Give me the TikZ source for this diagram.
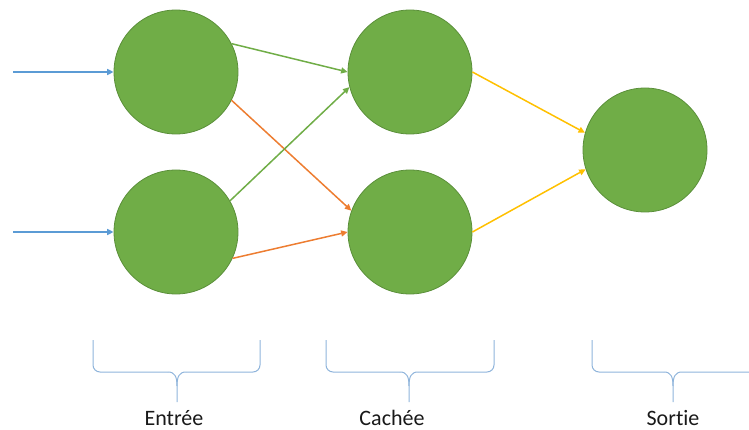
\documentclass[tikz,border=0pt]{standalone}
\usepackage{fontspec}
\setmainfont{Carlito}[Ligatures=NoCommon]
\usetikzlibrary{arrows.meta}
\definecolor{nfill}{HTML}{70AD47}
\definecolor{nborder}{HTML}{5A8F39}
\definecolor{cblue}{HTML}{5B9BD5}
\definecolor{corange}{HTML}{ED7D31}
\definecolor{cyellow}{HTML}{FFC000}
\definecolor{cgreen}{HTML}{70AD47}
\definecolor{cbrace}{HTML}{8FB4DB}
\tikzset{
  neuron/.style={circle, fill=nfill, draw=nborder, line width=0.8pt, minimum size=124pt, inner sep=0pt},
  conn/.style={line width=1.5pt, -{Triangle[length=6.5pt,width=6pt]}},
  bracestyle/.style={draw=cbrace, line width=1pt, rounded corners=7pt},
  cusp/.style={draw=cbrace, line width=1pt},
  lbl/.style={anchor=base, inner sep=0pt, font=\fontsize{22}{24}\selectfont, text=black!90}
}
\begin{document}
\begin{tikzpicture}[x=1pt,y=-1pt]
\useasboundingbox (0,0) rectangle (749,430);
\node[neuron] (i1) at (176,72) {};
\node[neuron] (i2) at (176,232) {};
\node[neuron] (h1) at (410,72) {};
\node[neuron] (h2) at (410,232) {};
\node[neuron] (o) at (645,150) {};
\coordinate (in1) at (13,72);
\coordinate (in2) at (13,232);
\draw[conn, cblue] (in1) -- (i1.west);
\draw[conn, cblue] (in2) -- (i2.west);
\draw[conn, cgreen] (i1.27) -- (h1.west);
\draw[conn, corange] (i1.-27) -- (h2.160);
\draw[conn, cgreen] (i2.30) -- (h1.-166);
\draw[conn, corange] (i2.-25) -- (h2.west);
\draw[conn, cyellow] (h1.east) -- (o.164);
\draw[conn, cyellow] (h2.east) -- (o.-162);
% braces
\draw[bracestyle] (93,340) -- (93,372) -- (168,372);
\draw[cusp] (168,372) .. controls (175,372) and (177,377) .. (177,386) -- (177,402);
\draw[cusp] (177,386) .. controls (177,377) and (179,372) .. (186,372);
\draw[bracestyle] (186,372) -- (260,372) -- (260,340);
\draw[bracestyle] (326,340) -- (326,372) -- (400,372);
\draw[cusp] (400,372) .. controls (407,372) and (409,377) .. (409,386) -- (409,402);
\draw[cusp] (409,386) .. controls (409,377) and (411,372) .. (418,372);
\draw[bracestyle] (418,372) -- (494,372) -- (494,340);
\draw[bracestyle] (592,340) -- (592,372) -- (664,372);
\draw[cusp] (664,372) .. controls (671,372) and (673,377) .. (673,386) -- (673,402);
\draw[cusp] (673,386) .. controls (673,377) and (675,372) .. (682,372) -- (749,372);
\node[lbl] (le) at (174,425) {Entrée};
\node[lbl] (lc) at (392,425) {Cachée};
\node[lbl] (ls) at (673,425) {Sortie};
\end{tikzpicture}
\end{document}
